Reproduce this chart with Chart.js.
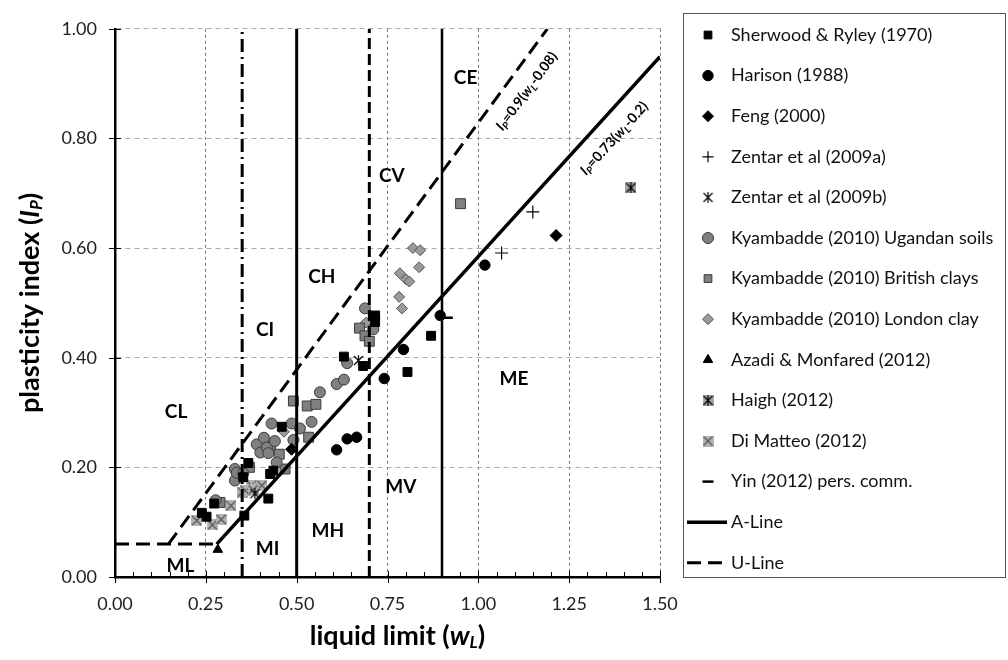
<!DOCTYPE html>
<html lang="en">
<head>
<meta charset="UTF-8" />
<title>Plasticity chart</title>
<style>
  html, body { margin: 0; padding: 0; background: #fff; }
</style>
</head>
<body>
<canvas id="lienzo" width="1008" height="660"></canvas>

<script src="https://cdn.jsdelivr.net/npm/chart.js"></script>
<script>
// ---- data: liquid limit (wL) / plasticity index (IP) ----
const sherwoodWL = [0.239, 0.252, 0.273, 0.356, 0.367, 0.353, 0.422, 0.427, 0.436, 0.459, 0.630, 0.683, 0.716, 0.716, 0.805, 0.870];
const sherwoodIP = [0.117, 0.110, 0.134, 0.112, 0.208, 0.182, 0.143, 0.188, 0.194, 0.274, 0.402, 0.385, 0.477, 0.465, 0.374, 0.440];
const harisonWL = [0.610, 0.639, 0.665, 0.741, 0.794, 0.895, 1.018];
const harisonIP = [0.232, 0.252, 0.255, 0.362, 0.415, 0.477, 0.569];
const fengWL = [0.486, 1.214];
const fengIP = [0.233, 0.623];
const zentarAWL = [1.064, 1.150];
const zentarAIP = [0.591, 0.666];
const zentarBWL = [0.385, 0.670];
const zentarBIP = [0.152, 0.395];
const ugandaWL = [0.277, 0.330, 0.330, 0.335, 0.353, 0.390, 0.400, 0.410, 0.418, 0.422, 0.431, 0.440, 0.445, 0.486, 0.491, 0.509, 0.541, 0.564, 0.610, 0.630, 0.639, 0.688, 0.711];
const ugandaIP = [0.140, 0.176, 0.197, 0.190, 0.189, 0.242, 0.227, 0.254, 0.236, 0.226, 0.280, 0.248, 0.209, 0.280, 0.250, 0.271, 0.283, 0.337, 0.352, 0.360, 0.390, 0.490, 0.452];
const britishWL = [0.289, 0.370, 0.428, 0.452, 0.468, 0.491, 0.529, 0.553, 0.533, 0.673, 0.688, 0.700, 0.951];
const britishIP = [0.136, 0.200, 0.240, 0.224, 0.197, 0.321, 0.312, 0.315, 0.255, 0.454, 0.440, 0.430, 0.681];
const londonWL = [0.465, 0.691, 0.782, 0.790, 0.784, 0.801, 0.810, 0.837, 0.820, 0.840];
const londonIP = [0.265, 0.464, 0.511, 0.490, 0.554, 0.543, 0.539, 0.565, 0.600, 0.596];
const azadiWL = [0.283];
const azadiIP = [0.050];
const haighWL = [1.420];
const haighIP = [0.710];
const diMatteoWL = [0.225, 0.268, 0.292, 0.319, 0.350, 0.358, 0.376, 0.397, 0.404, 0.380];
const diMatteoIP = [0.103, 0.095, 0.105, 0.130, 0.155, 0.158, 0.167, 0.167, 0.167, 0.159];
const yinWL = [0.912];
const yinIP = [0.473];

// A-line, U-line and the flat part at the bottom
const aLineWL = [0.28, 1.50];
const aLineIP = [0.06, 0.949];
const uLineWL = [0.147, 1.19];
const uLineIP = [0.06, 1.00];
const baseWL = [0.00, 0.28];
const baseIP = [0.06, 0.06];

// boundaries between L / I / H / V / E
const zoneBounds = [0.35, 0.50, 0.70, 0.90];

const zoneNames = ["CL", "CI", "CH", "CV", "CE", "ML", "MI", "MH", "MV", "ME"];
const zoneWL = [0.168, 0.413, 0.569, 0.762, 0.965, 0.180, 0.420, 0.586, 0.787, 1.098];
const zoneIP = [0.302, 0.450, 0.548, 0.731, 0.910, 0.020, 0.052, 0.085, 0.165, 0.362];

// ---------------------------------------------------------------------------
const FONT = "Lato";

function pts(xs, ys) {
  return xs.map((x, i) => ({ x: x, y: ys[i] }));
}

// little canvas markers for the boxed / star symbols
function boxMarker(size, fill, line, vertical) {
  const c = document.createElement("canvas");
  c.width = size;
  c.height = size;
  const g = c.getContext("2d");
  if (fill) {
    g.fillStyle = fill;
    g.fillRect(0, 0, size, size);
  }
  g.strokeStyle = line;
  g.lineWidth = 1.2;
  g.beginPath();
  g.moveTo(1, 1); g.lineTo(size - 1, size - 1);
  g.moveTo(size - 1, 1); g.lineTo(1, size - 1);
  if (vertical) {
    g.moveTo(size / 2, 0); g.lineTo(size / 2, size);
  }
  g.stroke();
  return c;
}

const starMark = boxMarker(11, null, "#000", true);
const haighMark = boxMarker(11, "#a6a6a6", "#000", true);
const diMatteoMark = boxMarker(11, "#b4b4b4", "#555", false);

function pointSet(label, xs, ys, style, radius, fill, border, bw) {
  return {
    label: label,
    data: pts(xs, ys),
    showLine: false,
    pointStyle: style,
    pointRadius: radius,
    pointBackgroundColor: fill,
    pointBorderColor: border,
    pointBorderWidth: bw,
    order: 2,
    legendShow: true,
  };
}

function lineSet(label, xs, ys, width, dash, inLegend) {
  return {
    label: label,
    data: pts(xs, ys),
    showLine: true,
    borderColor: "#000",
    borderWidth: width,
    borderDash: dash,
    pointRadius: 0,
    fill: false,
    order: 1,
    legendShow: inLegend,
  };
}

const datasets = [
  pointSet("Sherwood & Ryley (1970)", sherwoodWL, sherwoodIP, "rect", 6.3, "#000", "#000", 1),
  pointSet("Harison (1988)", harisonWL, harisonIP, "circle", 5.2, "#000", "#000", 1),
  pointSet("Feng (2000)", fengWL, fengIP, "rectRot", 6, "#000", "#000", 1),
  pointSet("Zentar et al (2009a)", zentarAWL, zentarAIP, "cross", 6.5, "#000", "#000", 1.2),
  pointSet("Zentar et al (2009b)", zentarBWL, zentarBIP, starMark, 6, "#000", "#000", 1),
  pointSet("Kyambadde (2010) Ugandan soils", ugandaWL, ugandaIP, "circle", 5.5, "#808080", "#3c3c3c", 1),
  pointSet("Kyambadde (2010) British clays", britishWL, britishIP, "rect", 7, "#808080", "#3c3c3c", 1),
  pointSet("Kyambadde (2010) London clay", londonWL, londonIP, "rectRot", 5.5, "#9a9a9a", "#555", 1),
  pointSet("Azadi & Monfared (2012)", azadiWL, azadiIP, "triangle", 5.5, "#000", "#000", 1),
  pointSet("Haigh (2012)", haighWL, haighIP, haighMark, 6, "#000", "#000", 1),
  pointSet("Di Matteo (2012)", diMatteoWL, diMatteoIP, diMatteoMark, 6, "#000", "#000", 1),
  pointSet("Yin (2012) pers. comm.", yinWL, yinIP, "line", 6.5, "#000", "#000", 2.5),
  lineSet("A-Line", aLineWL, aLineIP, 3.5, [], true),
  lineSet("U-Line", uLineWL, uLineIP, 3, [14, 7], true),
  lineSet("base", baseWL, baseIP, 3, [14, 7], false),
  lineSet("b1", [zoneBounds[0], zoneBounds[0]], [0, 1], 3, [13, 5, 2, 5], false),
  lineSet("b2", [zoneBounds[1], zoneBounds[1]], [0, 1], 3, [], false),
  lineSet("b3", [zoneBounds[2], zoneBounds[2]], [0, 1], 3, [11, 5], false),
  lineSet("b4", [zoneBounds[3], zoneBounds[3]], [0, 1], 2.5, [], false),
];

// text with italic / subscript pieces, centred on (cx, cy)
function drawRich(ctx, parts, cx, cy) {
  let total = 0;
  parts.forEach((p) => {
    ctx.font = p.font;
    p.w = ctx.measureText(p.text).width;
    total += p.w;
  });
  let x = cx - total / 2;
  ctx.textAlign = "left";
  ctx.textBaseline = "middle";
  parts.forEach((p) => {
    ctx.font = p.font;
    ctx.fillText(p.text, x, cy + (p.dy || 0));
    x += p.w;
  });
}

const decor = {
  id: "decor",
  afterDatasetsDraw(chart) {
    const ctx = chart.ctx;
    const xs = chart.scales.x;
    const ys = chart.scales.y;
    const area = chart.chartArea;
    ctx.save();
    ctx.fillStyle = "#000";
    ctx.strokeStyle = "#000";

    // tick marks on the axes
    ctx.lineWidth = 1;
    for (let k = 0; k <= 30; k++) {
      const px = Math.round(xs.getPixelForValue(k * 0.05)) + 0.5;
      const major = k % 5 === 0;
      ctx.beginPath();
      ctx.moveTo(px, area.bottom - (major ? 6 : 5));
      ctx.lineTo(px, area.bottom + (major ? 6 : 0));
      ctx.stroke();
    }
    for (let k = 0; k <= 5; k++) {
      const py = Math.round(ys.getPixelForValue(k * 0.2)) + 0.5;
      ctx.beginPath();
      ctx.moveTo(area.left - 6, py);
      ctx.lineTo(area.left + 6, py);
      ctx.stroke();
    }

    // zone names
    ctx.font = "bold 19px " + FONT;
    ctx.textAlign = "center";
    ctx.textBaseline = "middle";
    zoneNames.forEach((n, i) => {
      ctx.fillText(n, xs.getPixelForValue(zoneWL[i]), ys.getPixelForValue(zoneIP[i]));
    });

    // equations along the lines
    const big = "bold 14px " + FONT;
    const bigIt = "italic bold 14px " + FONT;
    const sub = "italic bold 10px " + FONT;
    function along(wl, ip, lx, ly, parts) {
      const ang = Math.atan2(
        ys.getPixelForValue(ly[1]) - ys.getPixelForValue(ly[0]),
        xs.getPixelForValue(lx[1]) - xs.getPixelForValue(lx[0])
      );
      ctx.save();
      ctx.translate(xs.getPixelForValue(wl), ys.getPixelForValue(ip));
      ctx.rotate(ang);
      drawRich(ctx, parts, 0, 0);
      ctx.restore();
    }
    along(1.133, 0.886, uLineWL, uLineIP, [
      { text: "I", font: bigIt }, { text: "P", font: sub, dy: 4 },
      { text: "=0.9(", font: big }, { text: "w", font: bigIt },
      { text: "L", font: sub, dy: 4 }, { text: "-0.08)", font: big },
    ]);
    along(1.374, 0.800, aLineWL, aLineIP, [
      { text: "I", font: bigIt }, { text: "P", font: sub, dy: 4 },
      { text: "=0.73(", font: big }, { text: "w", font: bigIt },
      { text: "L", font: sub, dy: 4 }, { text: "-0.2)", font: big },
    ]);

    // axis titles
    const tf = "bold 27px " + FONT;
    const tfi = "italic bold 27px " + FONT;
    const ts = "italic bold 17px " + FONT;
    drawRich(ctx, [
      { text: "liquid limit (", font: tf }, { text: "w", font: tfi },
      { text: "L", font: ts, dy: 7 }, { text: ")", font: tf },
    ], (area.left + area.right) / 2 + 10, 636);
    ctx.save();
    ctx.translate(30, (area.top + area.bottom) / 2);
    ctx.rotate(-Math.PI / 2);
    drawRich(ctx, [
      { text: "plasticity index (", font: tf }, { text: "I", font: tfi },
      { text: "P", font: ts, dy: 7 }, { text: ")", font: tf },
    ], 0, 0);
    ctx.restore();
    ctx.restore();
  },

  // boxed legend on the right
  afterDraw(chart) {
    const ctx = chart.ctx;
    ctx.save();
    ctx.strokeStyle = "#555";
    ctx.lineWidth = 1;
    ctx.strokeRect(683.5, 13.5, 322, 564);
    ctx.font = "18px " + FONT;
    ctx.textAlign = "left";
    ctx.textBaseline = "middle";
    let row = 0;
    chart.data.datasets.forEach((ds) => {
      if (!ds.legendShow) return;
      const y = 35 + row * 40.6;
      ctx.save();
      if (ds.showLine) {
        ctx.strokeStyle = "#000";
        ctx.lineWidth = ds.borderWidth;
        ctx.setLineDash(ds.borderDash);
        ctx.beginPath();
        ctx.moveTo(687, y);
        ctx.lineTo(727, y);
        ctx.stroke();
      } else {
        ctx.fillStyle = ds.pointBackgroundColor;
        ctx.strokeStyle = ds.pointBorderColor;
        ctx.lineWidth = ds.pointBorderWidth;
        Chart.helpers.drawPoint(ctx, {
          pointStyle: ds.pointStyle,
          radius: Math.min(ds.pointRadius, 5.5),
          rotation: 0,
          borderWidth: ds.pointBorderWidth,
        }, 708, y);
      }
      ctx.restore();
      ctx.fillStyle = "#111";
      ctx.fillText(ds.label, 731, y);
      row++;
    });
    ctx.restore();
  },
};

const lienzo = document.querySelector("#lienzo");
const grafico = new Chart(lienzo, {
  type: "scatter",
  data: { datasets: datasets },
  options: {
    responsive: false,
    animation: false,
    events: [],
    layout: { padding: { top: 16, right: 348, left: 0, bottom: 0 } },
    plugins: {
      legend: { display: false },
      tooltip: { enabled: false },
    },
    scales: {
      x: {
        type: "linear",
        min: 0,
        max: 1.5,
        ticks: {
          stepSize: 0.25,
          callback: (v) => v.toFixed(2),
          font: { family: FONT, size: 18 },
          color: "#222",
          padding: 16,
          maxRotation: 0,
        },
        grid: { color: "#777", lineWidth: 1, drawTicks: false },
        border: { color: "#000", width: 2.5, dash: [3, 3] },
        afterFit: (s) => { s.height = 83; },
      },
      y: {
        type: "linear",
        min: 0,
        max: 1,
        ticks: {
          stepSize: 0.2,
          callback: (v) => v.toFixed(2),
          font: { family: FONT, size: 18 },
          color: "#222",
          padding: 18,
        },
        grid: { color: "#aaa", lineWidth: 1, drawTicks: false },
        border: { color: "#000", width: 2.5, dash: [5, 4] },
        afterFit: (s) => { s.width = 115; },
      },
    },
  },
  plugins: [decor],
});
</script>
</body>
</html>
